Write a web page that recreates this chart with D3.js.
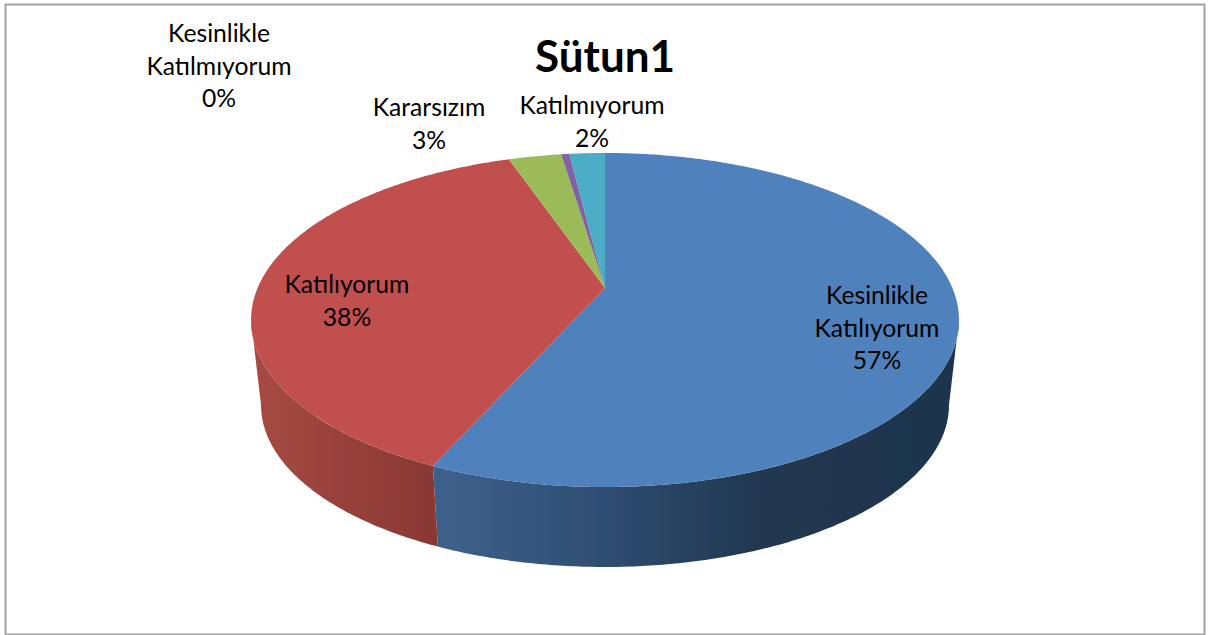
<!DOCTYPE html>
<html lang="tr">
<head>
<meta charset="utf-8">
<title>Sütun1</title>
<script src="https://cdn.jsdelivr.net/npm/d3@7"></script>
<style>
  html, body { margin: 0; padding: 0; background: #fff; }
  svg { display: block; }
  text { font-family: Lato, "Noto Sans", sans-serif; fill: #000; text-anchor: middle; }
  .lbl { font-size: 24.7px; }
  .ttl { font-size: 44px; font-weight: 700; }
</style>
</head>
<body>
<div id="bod"></div>
<script>
const titleText = "Sütun1"
const categories = ["Kesinlikle Katılıyorum", "Katılıyorum", "Kararsızım", "Kesinlikle Katılmıyorum", "Katılmıyorum"]
const values = [56.7, 38.0, 2.9, 0.45, 1.95]
const colors = ["#4f81bd", "#c0504d", "#9bbb59", "#8064a2", "#4bacc6"]

// label placement: centre x, first baseline y, one per category
const labelX = [877, 347, 429, 219, 592]
const labelY = [304, 293, 116, 42, 114]
const lineGap = 32.5

const w = 1210, h = 635

const svg = d3.select("#bod").append("svg")
  .attr("width", w)
  .attr("height", h)

svg.append("rect")
  .attr("x", 5.5).attr("y", 4.5)
  .attr("width", 1199).attr("height", 630)
  .attr("fill", "#fff")
  .attr("stroke", "#a3a3a3")
  .attr("stroke-width", 2)

// the disc is seen in perspective, so the pie centre is not the ellipse centre
const persp = 0.1916
const topFace = {cx: 605, cy: 288, rx: 347.4, ry: 160.9}
const bottomFace = {cx: 605, cy: 374, rx: 337.6, ry: 156}

function project(face, angle, r) {
  const x = Math.sin(angle) * r
  const y = -Math.cos(angle) * r
  const d = 1 - persp * y
  return [face.cx + face.rx * x / d, face.cy + face.ry * y / d]
}

function arcPoints(face, a0, a1) {
  const n = Math.max(2, Math.ceil(Math.abs(a1 - a0) / 0.01))
  return d3.range(n + 1).map(i => project(face, a0 + (a1 - a0) * i / n, 1))
}

const pie = d3.pie().sort(null).value(d => d)
const slices = pie(values)
const line = d3.line()

const defs = svg.append("defs")
defs.append("filter").attr("id", "soft")
  .append("feGaussianBlur").attr("stdDeviation", 0.45)

function wallGradient(id, x1, x2, stops) {
  const g = defs.append("linearGradient")
    .attr("id", id)
    .attr("gradientUnits", "userSpaceOnUse")
    .attr("x1", x1).attr("x2", x2).attr("y1", 0).attr("y2", 0)
  stops.forEach(s => g.append("stop").attr("offset", s[0]).attr("stop-color", s[1]))
}
wallGradient("wall-0", 433, 950, [[0, "#3e618c"], [0.3, "#304f74"], [0.62, "#213851"], [1, "#1f344e"]])
wallGradient("wall-1", 255, 440, [[0, "#a64a43"], [1, "#883733"]])

const pieG = svg.append("g").attr("filter", "url(#soft)")

// only the near side of the rim shows
const wallStart = Math.PI - Math.acos(persp)
const wallEnd = Math.PI + Math.acos(persp)
slices.forEach((s, i) => {
  const a0 = Math.max(s.startAngle, wallStart)
  const a1 = Math.min(s.endAngle, wallEnd)
  if (a1 <= a0) return
  const pts = arcPoints(topFace, a0, a1).concat(arcPoints(bottomFace, a1, a0))
  pieG.append("path")
    .attr("d", line(pts) + "Z")
    .attr("fill", `url(#wall-${i})`)
})

slices.forEach((s, i) => {
  const pts = [[topFace.cx, topFace.cy]].concat(arcPoints(topFace, s.startAngle, s.endAngle))
  pieG.append("path")
    .attr("d", line(pts) + "Z")
    .attr("fill", colors[i])
})

svg.append("text")
  .attr("class", "ttl")
  .attr("x", 605).attr("y", 72)
  .text(titleText)

const pct = d3.format(".0%")
// long names break on the space, as in the picture
categories.forEach((name, i) => {
  const lines = name.split(" ").concat(pct(values[i] / 100))
  const t = svg.append("text").attr("class", "lbl")
  lines.forEach((l, j) => {
    t.append("tspan")
      .attr("x", labelX[i])
      .attr("y", labelY[i] + j * lineGap)
      .text(l)
  })
})
</script>
</body>
</html>
